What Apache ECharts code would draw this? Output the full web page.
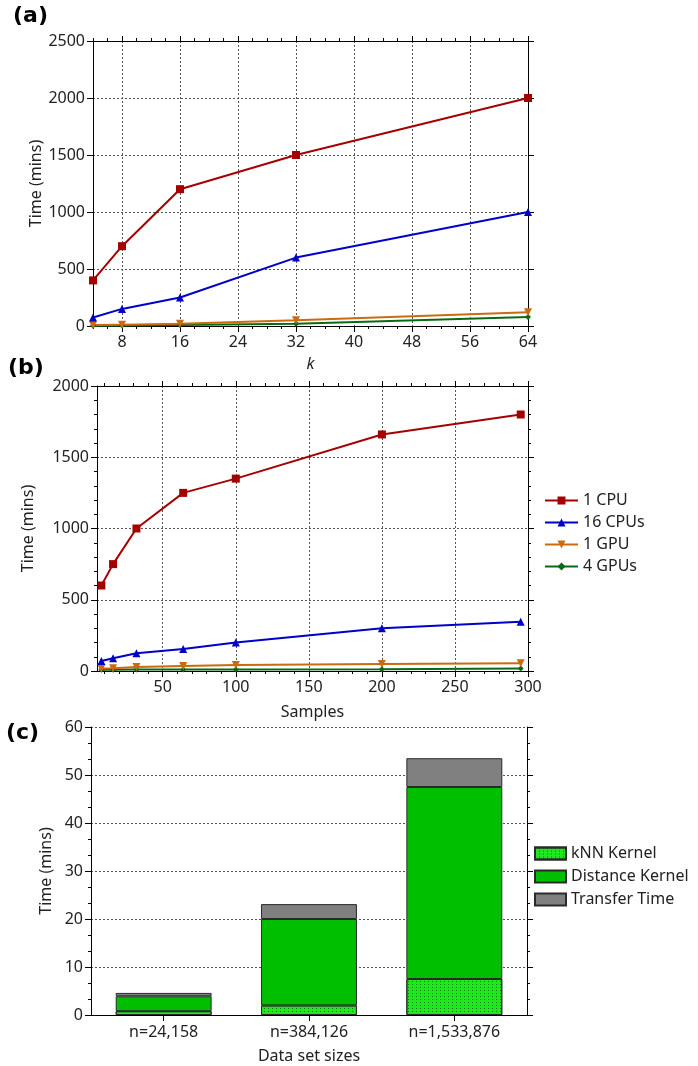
<!DOCTYPE html>
<html>
<head>
<meta charset="utf-8">
<script src="https://cdn.jsdelivr.net/npm/echarts@6/dist/echarts.min.js"></script>
<style>
html,body{margin:0;padding:0;background:#fff;}
#c{width:698px;height:1066px;}
</style>
</head>
<body>
<div id="c"></div>
<script>
// ---------- Data ----------
const kValues = [4, 8, 16, 32, 64];
const kTicks = [8, 16, 24, 32, 40, 48, 56, 64];
const a_cpu1 = [400, 700, 1200, 1500, 2000];
const a_cpu16 = [75, 150, 250, 600, 1000];
const a_gpu1 = [8, 12, 20, 50, 120];
const a_gpu4 = [3, 5, 8, 20, 78];

const samples = [8, 16, 32, 64, 100, 200, 295];
const sTicks = [50, 100, 150, 200, 250, 300];
const b_cpu1 = [600, 750, 1000, 1250, 1350, 1660, 1800];
const b_cpu16 = [70, 90, 125, 155, 200, 300, 345];
const b_gpu1 = [18, 20, 28, 35, 42, 50, 55];
const b_gpu4 = [8, 8, 10, 10, 10, 12, 18];

const dataSets = ['n=24,158', 'n=384,126', 'n=1,533,876'];
const knnKernel = [0.8, 2, 7.5];
const distKernel = [3.1, 18, 40];
const transferTime = [0.7, 3.1, 6];

const seriesNames = ['1 CPU', '16 CPUs', '1 GPU', '4 GPUs'];
const barNames = ['kNN Kernel', 'Distance Kernel', 'Transfer Time'];

// ---------- Helpers ----------
function minorBetween(min, max, step, majors) {
  const out = [];
  for (let v = Math.ceil(min / step) * step; v <= max + 1e-9; v += step) {
    if (majors.indexOf(v) < 0) out.push(v);
  }
  return out;
}
const FONT = 'Noto Sans';
const FS = 16;
const TXT = '#222';
const plain = v => String(v);
const axisLineStyle = { lineStyle: { color: '#000', width: 1 } };
const gridLine = { show: true, lineStyle: { color: '#555', type: [2, 2], width: 1 } };
const nameStyle = { color: TXT, fontSize: FS, fontFamily: FONT };

function valueX(grid, min, max, majors, minors, extra) {
  return [
    Object.assign({
      type: 'value', gridIndex: grid, position: 'bottom', min: min, max: max,
      axisLine: axisLineStyle,
      axisTick: { show: true, customValues: majors, length: 6, lineStyle: { color: '#000' } },
      axisLabel: { customValues: majors, color: TXT, fontSize: FS, fontFamily: FONT, margin: 8, formatter: plain },
      splitLine: gridLine,
      nameLocation: 'middle', nameMoveOverlap: false,
      nameTextStyle: nameStyle
    }, extra),
    { type: 'value', gridIndex: grid, position: 'bottom', min: min, max: max,
      axisLine: { show: false }, axisLabel: { show: false }, splitLine: { show: false },
      axisTick: { show: true, customValues: minors, length: 3, lineStyle: { color: '#000' } } },
    { type: 'value', gridIndex: grid, position: 'top', min: min, max: max,
      axisLine: axisLineStyle, axisLabel: { show: false }, splitLine: { show: false },
      axisTick: { show: true, customValues: majors, length: 5, lineStyle: { color: '#000' } } },
    { type: 'value', gridIndex: grid, position: 'top', min: min, max: max,
      axisLine: { show: false }, axisLabel: { show: false }, splitLine: { show: false },
      axisTick: { show: true, customValues: minors, length: 3, lineStyle: { color: '#000' } } }
  ];
}
function valueY(grid, min, max, interval, minorSplit, name, gap) {
  const minor = minorSplit ? { show: true, splitNumber: minorSplit, length: 3, lineStyle: { color: '#000' } } : { show: false };
  return [
    { type: 'value', gridIndex: grid, position: 'left', min: min, max: max, interval: interval,
      axisLine: { show: true, lineStyle: { color: '#000' } },
      axisTick: { show: true, length: 6, lineStyle: { color: '#000' } },
      minorTick: minor,
      axisLabel: { color: TXT, fontSize: FS, fontFamily: FONT, margin: 8, formatter: plain },
      splitLine: gridLine,
      name: name, nameLocation: 'middle', nameGap: gap, nameMoveOverlap: false,
      nameTextStyle: nameStyle },
    { type: 'value', gridIndex: grid, position: 'right', min: min, max: max, interval: interval,
      axisLine: { show: true, lineStyle: { color: '#000' } },
      axisTick: { show: true, length: 6, lineStyle: { color: '#000' } },
      minorTick: minor,
      axisLabel: { show: false }, splitLine: { show: false } }
  ];
}

const xAxes = [].concat(
  valueX(0, 4, 64, kTicks, minorBetween(4, 64, 2, kTicks),
    { name: 'k', nameGap: 30, nameTextStyle: { color: TXT, fontSize: FS, fontFamily: FONT, fontStyle: 'italic' } }),
  valueX(1, 5, 300, sTicks, minorBetween(5, 300, 10, sTicks), { name: 'Samples', nameGap: 33 }),
  [
    { type: 'category', gridIndex: 2, position: 'bottom', data: dataSets,
      axisLine: axisLineStyle,
      axisTick: { show: true, alignWithLabel: true, length: 6, lineStyle: { color: '#000' } },
      axisLabel: { color: TXT, fontSize: FS, fontFamily: FONT, margin: 9 },
      name: 'Data set sizes', nameLocation: 'middle', nameGap: 33, nameMoveOverlap: false,
      nameTextStyle: nameStyle },
    { type: 'category', gridIndex: 2, position: 'top', data: dataSets,
      axisLine: axisLineStyle, axisTick: { show: false }, axisLabel: { show: false } }
  ]
);
const yAxes = [].concat(
  valueY(0, 0, 2500, 500, 0, 'Time (mins)', 49),
  valueY(1, 0, 2000, 500, 5, 'Time (mins)', 61),
  valueY(2, 0, 60, 10, 3, 'Time (mins)', 37)
);

const lineStyles = [
  { color: '#a50000', symbol: 'rect', size: 8, rot: 0 },
  { color: '#0000c8', symbol: 'triangle', size: 8, rot: 0 },
  { color: '#cc6a10', symbol: 'triangle', size: 8, rot: 180 },
  { color: '#0a6a14', symbol: 'diamond', size: 6, rot: 0 }
];
function lineSeries(name, xs, ys, xi, yi, st) {
  return {
    type: 'line', name: name, xAxisIndex: xi, yAxisIndex: yi,
    data: xs.map((x, i) => [x, ys[i]]),
    symbol: st.symbol, symbolSize: st.size, symbolRotate: st.rot, showSymbol: true,
    lineStyle: { color: st.color, width: 2 },
    itemStyle: { color: st.color },
    emphasis: { disabled: true }, clip: false
  };
}
const aData = [a_cpu1, a_cpu16, a_gpu1, a_gpu4];
const bData = [b_cpu1, b_cpu16, b_gpu1, b_gpu4];
const series = [];
for (let i = 3; i >= 0; i--) series.push(lineSeries(seriesNames[i], kValues, aData[i], 0, 0, lineStyles[i]));
for (let i = 3; i >= 0; i--) series.push(lineSeries(seriesNames[i], samples, bData[i], 4, 2, lineStyles[i]));

const barColors = ['#1ee81e', '#00bf00', '#808080'];
const barData = [knnKernel, distKernel, transferTime];
barNames.forEach((n, i) => {
  const s = {
    type: 'bar', name: n, xAxisIndex: 8, yAxisIndex: 4, stack: 'c', data: barData[i],
    barWidth: '66%',
    itemStyle: { color: barColors[i], borderColor: '#2a2a2a', borderWidth: 1 },
    emphasis: { disabled: true }
  };
  if (i === 0) {
    s.itemStyle.decal = { symbol: 'rect', symbolSize: 1, dashArrayX: [1, 3], dashArrayY: [1, 2], color: 'rgba(0,90,0,0.75)' };
  }
  series.push(s);
});

const titleStyle = { fontSize: 22, fontWeight: 'bold', color: '#000', fontFamily: 'DejaVu Sans' };
const option = {
  backgroundColor: '#fff',
  animation: false,
  textStyle: { fontFamily: FONT },
  title: [
    { text: '(a)', left: 13, top: 5, padding: 0, textStyle: titleStyle },
    { text: '(b)', left: 8, top: 357, padding: 0, textStyle: titleStyle },
    { text: '(c)', left: 6, top: 722, padding: 0, textStyle: titleStyle }
  ],
  grid: [
    { left: 93, right: 170, top: 41, height: 285, outerBoundsMode: 'none' },
    { left: 97, right: 170, top: 386, height: 285, outerBoundsMode: 'none' },
    { left: 91, right: 171, top: 727, height: 288, outerBoundsMode: 'none' }
  ],
  legend: [
    { data: seriesNames, orient: 'vertical', left: 544, top: 492, itemGap: 5, itemWidth: 33, itemHeight: 10,
      padding: 0, selectedMode: false,
      textStyle: { fontSize: FS, color: TXT, fontFamily: FONT, lineHeight: 17 } },
    { data: barNames, orient: 'vertical', left: 534, top: 845, itemGap: 6, itemWidth: 31, itemHeight: 12,
      icon: 'rect', padding: 0, selectedMode: false,
      textStyle: { fontSize: FS, color: TXT, fontFamily: FONT, lineHeight: 17 } }
  ],
  xAxis: xAxes,
  yAxis: yAxes,
  series: series
};
const chart = echarts.init(document.getElementById('c'), null, { renderer: 'canvas' });
chart.setOption(option);
</script>
</body>
</html>
